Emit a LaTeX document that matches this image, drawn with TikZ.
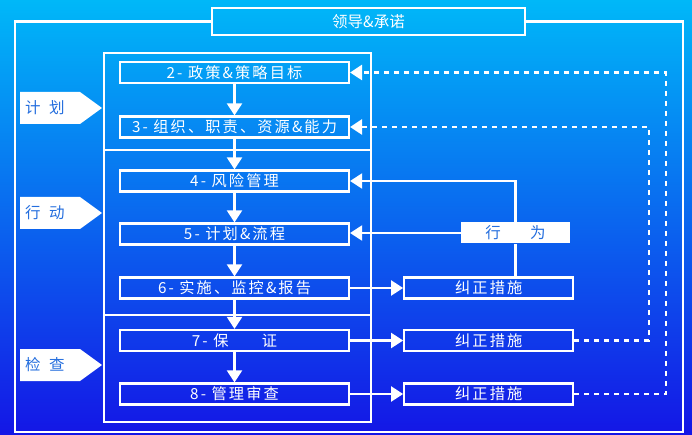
\documentclass[tikz,border=0pt]{standalone}
\usepackage{fontspec}
\setmainfont{Noto Sans CJK SC}
\newfontfamily\boxfont[LetterSpace=14]{Noto Sans CJK SC}
\usetikzlibrary{arrows.meta,positioning}
\definecolor{skytop}{RGB}{0,184,248}
\definecolor{skymid}{RGB}{6,110,242}
\definecolor{skybot}{RGB}{20,22,230}
\definecolor{tagblue}{RGB}{36,110,222}
\tikzset{
  frame/.style   = {draw=white, line width=2.4pt},
  stepbox/.style = {draw=white, line width=2.2pt, minimum width=229pt, minimum height=21pt,
                    inner sep=0pt, text=white, font=\boxfont\fontsize{15.2}{16}\selectfont},
  fixbox/.style  = {stepbox, minimum width=169pt},
  flow/.style    = {draw=white, line width=2.2pt, -{Triangle[length=12pt,width=15pt]}},
  feed/.style    = {flow, line width=2.8pt, dash pattern=on 5pt off 5pt},
  tag/.style     = {anchor=west, inner sep=0pt, text=tagblue, font=\fontsize{15.5}{16}\selectfont},
}

\begin{document}
\begin{tikzpicture}[x=1pt, y=-1pt]
        \useasboundingbox (0,0) rectangle (692,435);
        \shade[top color=skytop, middle color=skymid, bottom color=skybot] (0,0) rectangle (692,435);
        \node[draw=white, line width=2.4pt, minimum width=313pt, minimum height=27pt, inner sep=0pt,
              text=white, font=\fontsize{15.5}{16}\selectfont] (hd) at (368.5,21.5) {领导\&承诺};
        \coordinate (ol) at (15,432);
        \coordinate (or) at (683,432);
        \draw[frame] (hd.west) -| (ol) -- (or) |- (hd.east);
        \draw[frame] (104,53) rectangle (371,422);
        \draw[frame] (104,150) -- (371,150);
        \draw[frame] (104,315) -- (371,315);
        \foreach \name/\yc/\txt in {plan/108/计\hspace{.55em}划, act/213/行\hspace{.55em}动, chk/365/检\hspace{.55em}查} {
            \fill[white] (20,\yc-16) -- (80,\yc-16) -- (102,\yc) -- (80,\yc+16) -- (20,\yc+16) -- cycle;
            \node[tag] (\name) at (25,\yc) {\txt};
        }
        \foreach \n/\yc/\txt in {2/72.5/{2- 政策\&策略目标}, 3/127/{3- 组织、职责、资源\&能力},
                                 4/181/{4- 风险管理}, 5/234/{5- 计划\&流程},
                                 6/288/{6- 实施、监控\&报告}, 7/340.5/{7- 保\hspace{2.2em}证},
                                 8/394/{8- 管理审查}} {
            \node[stepbox] (b\n) at (234.5,\yc) {\txt};
        }
        \foreach \a/\b in {2/3,3/4,4/5,5/6,6/7,7/8} {
            \draw[flow] (b\a) -- (b\b);
        }
        \foreach \n in {6,7,8} {
            \node[fixbox, right=53pt of b\n] (k\n) {纠正措施};
            \draw[flow] (b\n) -- (k\n);
        }
        \node[fill=white, minimum width=109pt, minimum height=21pt, inner sep=0pt, text=tagblue,
              font=\fontsize{15.5}{16}\selectfont] (xw) at (515.5,233) {行\hspace{1.9em}为};
        \draw[draw=white, line width=2.2pt] (k6.north -| xw) -- (xw.south);
        \draw[flow] (xw.north) |- (b4.east);
        \draw[flow] (xw.west) -- (xw.west -| b5.east);
        \coordinate (d7) at (649,0);
        \coordinate (d8) at (666,0);
        \draw[feed] (k7.east) -| (d7 |- b3.east) -- (b3.east);
        \draw[feed] (k8.east) -| (d8 |- b2.east) -- (b2.east);
    \end{tikzpicture}
\end{document}
